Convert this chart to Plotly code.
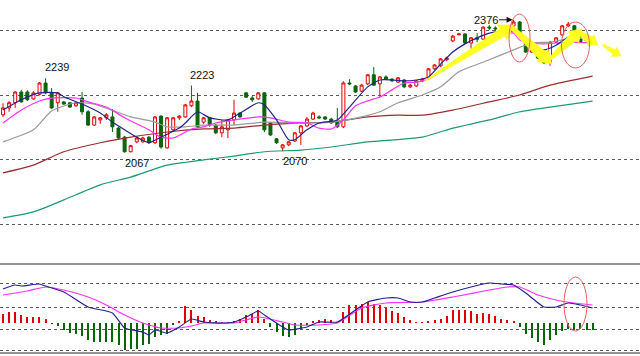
import plotly.graph_objects as go
import math

# ---------------- data ----------------
opens = [2155,2171,2183,2208,2208,2192,2203,2229,2206,2183,2185,2183,2176,2194,2162,2131,2143,2148,2150,2124,
         2103,2069,2092,2092,2103,2090,2152,2078,2120,2148,2150,2176,2187,2138,2148,2131,2113,2120,2143,2159,
         2206,2194,2192,2206,2136,2099,2078,2085,2094,2113,2129,2145,2150,2150,2145,2138,2127,2229,2222,2210,
         2227,2248,2227,2243,2238,2231,2236,2220,2222,2234,2241,2262,2269,2283,2327,2341,2343,2322,2334,2331,
         2359,2357,2352,2352,2362,2371,2324,2301,2301,2287,2276,2324,2341,2362,2362,2341,2334,2327]
highs = [2182,2187,2210,2213,2212,2210,2231,2240,2217,2208,2187,2185,2185,2208,2166,2152,2150,2159,2168,2127,
         2106,2085,2103,2104,2106,2152,2154,2150,2150,2154,2180,2223,2206,2150,2150,2134,2143,2145,2190,2161,
         2208,2199,2208,2208,2138,2101,2087,2094,2115,2131,2150,2162,2154,2152,2148,2171,2233,2238,2224,2227,
         2250,2266,2245,2247,2240,2243,2238,2227,2236,2241,2264,2273,2287,2290,2341,2345,2345,2336,2345,2361,
         2364,2361,2355,2362,2376,2373,2327,2308,2303,2290,2327,2336,2364,2371,2364,2343,2336,2334]
lows = [2150,2162,2171,2183,2187,2190,2200,2203,2168,2162,2178,2171,2173,2155,2129,2129,2134,2143,2115,2098,
        2067,2068,2089,2090,2087,2087,2076,2076,2117,2143,2148,2173,2124,2134,2127,2110,2103,2101,2131,2148,
        2194,2185,2190,2115,2106,2087,2070,2082,2092,2085,2127,2143,2145,2143,2134,2124,2124,2224,2206,2208,
        2224,2222,2196,2236,2231,2229,2217,2217,2220,2231,2238,2259,2266,2280,2324,2340,2320,2306,2324,2329,
        2352,2350,2345,2350,2359,2336,2299,2299,2285,2273,2269,2322,2338,2359,2343,2322,2324,2324]
closes = [2171,2183,2208,2185,2190,2206,2229,2206,2171,2206,2180,2173,2183,2162,2131,2150,2148,2155,2127,2101,
          2069,2083,2101,2101,2090,2150,2080,2148,2148,2152,2178,2187,2127,2148,2131,2113,2127,2143,2159,2150,
          2196,2190,2206,2120,2108,2090,2085,2092,2113,2129,2145,2159,2148,2145,2136,2127,2229,2227,2208,2224,
          2248,2224,2243,2238,2234,2241,2220,2224,2234,2238,2262,2271,2285,2287,2338,2343,2322,2334,2331,2359,
          2357,2355,2348,2359,2371,2338,2301,2306,2287,2276,2324,2334,2362,2366,2345,2324,2327,2331]
candle_idx = list(range(len(opens)))

# moving averages (candle index, price)
ma5_idx = [0,3,6,9,10,13,16,18,20,22,24,26,28,29,30,32,34,37,39,42,43,45,47,48,50,52,55,57,60,62,64,66,68,70,72,74,76,78,80,82,84,86,89,91,93,95,97]
ma5_val = [2166,2190,2206,2206,2197,2180,2159,2138,2120,2103,2090,2103,2117,2124,2136,2162,2148,2143,2159,2183,2178,2143,2097,2097,2120,2136,2143,2173,2220,2236,2236,2234,2236,2243,2273,2301,2320,2334,2345,2350,2348,2324,2306,2317,2336,2345,2334]
ma10_idx = [0,3,6,8,12,14,17,20,24,26,28,31,33,35,38,42,44,47,50,52,54,56,58,61,62,64,66,68,70,73,76,79,82,84,85,87,89,91,93,97]
ma10_val = [2136,2166,2187,2194,2194,2185,2173,2148,2120,2103,2101,2122,2127,2136,2143,2150,2148,2138,2136,2124,2122,2143,2176,2192,2196,2213,2229,2231,2238,2266,2296,2322,2343,2345,2329,2322,2320,2322,2324,2322]
ma20_idx = [0,5,8,12,15,21,25,27,30,33,38,43,49,54,59,62,65,69,72,75,80,84,87,90,94,97]
ma20_val = [2092,2120,2164,2183,2180,2150,2138,2127,2127,2131,2131,2138,2136,2138,2150,2162,2183,2201,2220,2255,2283,2306,2322,2324,2334,2329]
ma60_idx = [0,5,10,16,21,27,33,38,43,49,54,60,65,69,74,80,85,90,97]
ma60_val = [2020,2038,2069,2090,2103,2115,2122,2124,2131,2136,2138,2150,2154,2154,2166,2185,2201,2224,2245]
ma120_idx = [0,5,10,16,21,27,33,38,43,49,54,60,69,74,80,85,90,97]
ma120_val = [1915,1929,1957,1992,2010,2038,2050,2059,2069,2073,2080,2092,2103,2124,2143,2162,2173,2187]

# MACD panel
macd_hist = [9.3,11,11,7.7,6,6,6,4.3,-0.5,-3.3,-6.7,-10,-10.7,-13.3,-17.3,-19,-19,-19,-19,-22.3,
             -26.7,-25.7,-26.3,-22.3,-20.7,-14,-12.3,-10.7,-2.3,2,16.7,12.7,6.7,6,2.7,2,1,0.5,2,4.3,
             7.7,9.3,12.7,4.3,-4,-9,-13.3,-14,-12.3,-5.7,-2.3,2,3.3,4.3,2.7,1,11,17.7,17.7,19.3,
             21,19.3,17.7,15.3,11.7,10,6,2.7,1,0.5,2,2.7,4.3,6.7,12.7,13.3,12.7,11.7,9.3,10,
             8.7,6.7,4.3,2.7,2,-4,-10.7,-14.7,-19,-22.3,-17.3,-12.3,-8,-5.7,-6.7,-5.7,-6.7,-6.7]
dif_idx = [0,2,3,6,7,10,14,18,20,23,24,25,27,29,31,33,36,38,40,42,43,46,47,50,52,55,58,60,63,65,67,69,71,74,77,80,82,84,86,89,91,93,95,97]
dif_val = [34,38,37,39,37,31,16,10,-5,-9,-12,-7,-10,-4,4,1,0,1,6,12,8,-4,-7,-4,1,1,13,21,25,25,21,21,25,31,36,40,39,38,30,16,16,20,18,15]
dea_idx = [0,4,7,10,14,17,20,23,26,29,31,33,38,42,46,48,52,55,59,63,69,74,80,83,85,88,91,94,97]
dea_val = [28,32,36,33,26,18,8,0,-5,-5,-3,0,0,6,1,-2,-2,0,15,20,21,26,33,36,36,28,23,20,18]

# high / low labels
label_text = ["2239", "2223", "2067", "2070"]
label_idx = [7, 31, 20, 46]
label_side = ["high", "high", "low", "low"]
peak_idx = 84

# ---------------- figure ----------------
W, H = 640, 356
fig = go.Figure()

RED = "#e00000"
GREEN = "#0a640a"

fig.add_trace(go.Candlestick(
    x=candle_idx, open=opens, high=highs, low=lows, close=closes,
    increasing=dict(line=dict(color=RED, width=1), fillcolor="white"),
    decreasing=dict(line=dict(color=GREEN, width=1), fillcolor=GREEN),
    whiskerwidth=0, showlegend=False, xaxis="x", yaxis="y"))

for xs, ys, col, w in [(ma120_idx, ma120_val, "#1e9a6e", 1.2),
                       (ma60_idx, ma60_val, "#9a2f2f", 1.2),
                       (ma20_idx, ma20_val, "#9a9a9a", 1.2),
                       (ma10_idx, ma10_val, "#ff33ff", 1.2),
                       (ma5_idx, ma5_val, "#23238c", 1.2)]:
    fig.add_trace(go.Scatter(x=xs, y=ys, mode="lines", line=dict(color=col, width=w, shape="spline", smoothing=0.6),
                             showlegend=False, hoverinfo="skip", xaxis="x", yaxis="y"))

fig.add_trace(go.Bar(x=candle_idx, y=macd_hist, width=0.17,
                     marker=dict(color=[RED if v >= 0 else GREEN for v in macd_hist], line=dict(width=0)),
                     showlegend=False, xaxis="x2", yaxis="y2"))
fig.add_trace(go.Scatter(x=dea_idx, y=dea_val, mode="lines", line=dict(color="#ff33ff", width=1.2, shape="spline", smoothing=0.5),
                         showlegend=False, xaxis="x2", yaxis="y2"))
fig.add_trace(go.Scatter(x=dif_idx, y=dif_val, mode="lines", line=dict(color="#23238c", width=1.2, shape="spline", smoothing=0.5),
                         showlegend=False, xaxis="x2", yaxis="y2"))

# axis geometry
XR = [-0.5, 104.8]
main_dom = [0.27, 1.0]
macd_dom = [0.0084, 0.2584]
yr_main = [1817.4, 2422.1]
yr_macd = [-30, 59]

grid = dict(showgrid=True, griddash="dot", gridcolor="#5a5a5a", gridwidth=1,
            showticklabels=False, zeroline=False, showline=False, ticks="")
fig.update_layout(
    width=W, height=H, margin=dict(l=0, r=0, t=0, b=0),
    paper_bgcolor="white", plot_bgcolor="white", bargap=0,
    xaxis=dict(domain=[0, 1], range=XR, visible=False, rangeslider=dict(visible=False), anchor="y"),
    yaxis=dict(domain=main_dom, range=yr_main, tickvals=[1900, 2050, 2200, 2350], anchor="x", **grid),
    xaxis2=dict(domain=[0, 1], range=XR, visible=False, anchor="y2", matches="x"),
    yaxis2=dict(domain=macd_dom, range=yr_macd, tickvals=[-27, -6, 16, 40], anchor="x2", **grid),
)

# panel separators
for yy in [0, 1]:
    fig.add_shape(type="line", xref="paper", yref="y2 domain", x0=0, x1=1, y0=yy, y1=yy,
                  line=dict(color="#707070", width=1.5))

# high / low labels
font = dict(family="Liberation Sans Narrow, Liberation Sans, Arial", size=11, color="#111111")
for t, i, side in zip(label_text, label_idx, label_side):
    if side == "high":
        fig.add_annotation(x=i, y=highs[i], text=t, showarrow=False, font=font,
                           xanchor="center", yanchor="bottom", xshift=11, yshift=3)
    else:
        fig.add_annotation(x=i, y=lows[i], text=t, showarrow=False, font=font,
                           xanchor="center", yanchor="top", xshift=12, yshift=-2)
fig.add_annotation(x=peak_idx, y=highs[peak_idx], text=str(highs[peak_idx]), showarrow=True,
                   ax=-28, ay=0, arrowhead=2, arrowsize=1.2, arrowwidth=1, arrowcolor="#111111",
                   standoff=1, font=font)

# decorations: yellow arrows and red ellipses (pixel geometry of the drawing)
def px(x, y):
    return x / W, 1 - y / H

def arrow_path(x0, y0, x1, y1, w0, w1, hw, hl):
    L = math.hypot(x1 - x0, y1 - y0)
    ux, uy = (x1 - x0) / L, (y1 - y0) / L
    nx, ny = -uy, ux
    bx, by = x1 - ux * hl, y1 - uy * hl
    pts = [(x0 + nx * w0 / 2, y0 + ny * w0 / 2), (bx + nx * w1 / 2, by + ny * w1 / 2),
           (bx + nx * hw / 2, by + ny * hw / 2), (x1, y1),
           (bx - nx * hw / 2, by - ny * hw / 2), (bx - nx * w1 / 2, by - ny * w1 / 2),
           (x0 - nx * w0 / 2, y0 - ny * w0 / 2)]
    s = ""
    for k, (a, b) in enumerate(pts):
        pa, pb = px(a, b)
        s += ("M" if k == 0 else "L") + f"{pa:.5f},{pb:.5f} "
    return s + "Z"

yellow_arrows = [(425, 81, 514, 25, 1, 9, 18, 14),
                 (511, 27, 552, 64, 4, 10, 17, 13),
                 (549, 60, 582, 29, 3, 9, 16, 12),
                 (578, 32, 598, 45, 4, 8, 13, 9),
                 (603, 45, 621, 56, 2, 5, 11, 8)]
for a in yellow_arrows:
    fig.add_shape(type="path", xref="paper", yref="paper", path=arrow_path(*a),
                  fillcolor="#ffff22", line=dict(color="#ffff22", width=0.5), layer="above")

for cx, cy, rx, ry in [(519.5, 38, 10.5, 24), (575.5, 45, 14, 23), (575.5, 304, 11.5, 27)]:
    x0, y0 = px(cx - rx, cy - ry)
    x1, y1 = px(cx + rx, cy + ry)
    fig.add_shape(type="circle", xref="paper", yref="paper", x0=x0, x1=x1, y0=y1, y1=y0,
                  line=dict(color="#e86060", width=1), layer="above")

fig.write_html("out.html", config={"displayModeBar": False},
               post_script="document.body.style.margin='0';document.body.style.overflow='hidden';")
